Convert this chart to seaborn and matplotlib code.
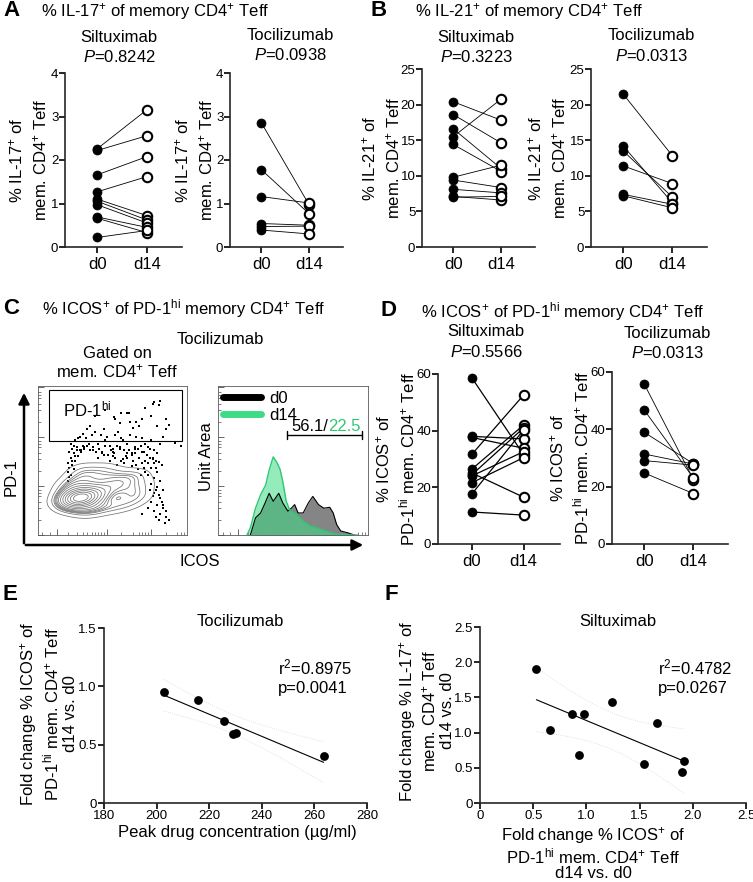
import numpy as np
import pandas as pd
import matplotlib
matplotlib.use("Agg")
import matplotlib.pyplot as plt
import seaborn as sns
from matplotlib.lines import Line2D
from matplotlib.patches import FancyArrowPatch, Rectangle

# ---------------- data ----------------
days = ["d0", "d14"]
a_silt_d0 = [2.26, 2.22, 1.66, 1.27, 1.10, 1.05, 0.97, 0.69, 0.66, 0.22]
a_silt_d14 = [3.16, 2.56, 2.08, 1.62, 0.72, 0.62, 0.55, 0.45, 0.33, 0.38]
a_toci_d0 = [2.86, 1.78, 1.16, 0.54, 0.47, 0.39]
a_toci_d14 = [0.96, 0.76, 1.01, 0.50, 0.48, 0.30]

b_silt_d0 = [20.4, 18.6, 16.6, 15.5, 14.4, 9.8, 9.4, 8.1, 7.1, 7.0]
b_silt_d14 = [17.8, 14.6, 11.0, 20.8, 10.6, 11.5, 8.35, 7.6, 6.6, 7.1]
b_toci_d0 = [21.5, 14.2, 13.5, 11.4, 7.4, 7.2]
b_toci_d14 = [12.8, 6.2, 7.0, 8.9, 6.0, 5.5]

d_silt_d0 = [58.7, 38.0, 37.6, 31.6, 26.4, 25.1, 24.4, 24.0, 21.6, 17.6, 11.3]
d_silt_d14 = [31.5, 37.1, 33.8, 52.6, 42.0, 16.5, 41.0, 32.6, 30.5, 40.3, 10.2]
d_toci_d0 = [55.9, 46.8, 39.0, 31.4, 29.1, 24.8]
d_toci_d14 = [22.5, 23.0, 28.0, 27.9, 27.5, 17.6]

e_conc = [202.7, 215.7, 225.7, 229.2, 230.2, 263.5]
e_fold = [0.95, 0.88, 0.70, 0.59, 0.60, 0.40]

f_icos = [0.53, 0.66, 0.86, 0.98, 0.93, 1.24, 1.66, 1.54, 1.92, 1.90]
f_il17 = [1.91, 1.04, 1.26, 1.27, 0.68, 1.43, 1.13, 0.56, 0.60, 0.44]

# flow plot (panel C), read approximately in 0-100 display units
core_x = [26, 28, 30, 27, 29, 25, 31, 24, 32, 28, 27, 30, 34, 36, 22, 20, 23, 26, 30, 34,
          38, 40, 42, 36, 32, 26, 22, 19, 45, 48, 52, 56, 60, 64, 68, 62, 55, 48, 40, 34,
          20, 24, 30, 38, 46, 54, 62, 70, 66, 44, 34, 28, 27, 29, 26, 30]
core_y = [25, 25, 25, 24, 26, 26, 24, 24, 26, 27, 22, 22, 25, 26, 25, 27, 30, 31, 31, 30,
          29, 27, 25, 21, 19, 19, 20, 23, 30, 33, 35, 33, 30, 28, 26, 22, 20, 19, 18, 16,
          33, 37, 38, 36, 40, 40, 38, 34, 40, 44, 42, 44, 25, 25, 24, 26]
dots_x = [21, 20, 22, 21, 23, 24, 22, 25, 27, 26, 24, 20, 22, 23,
          28, 30, 32, 34, 36, 38, 33, 35, 40, 42, 44, 46, 48, 50, 52, 54, 56, 58, 60, 62, 64, 66,
          68, 70, 72, 74, 76, 78, 80, 82, 84, 86, 88, 45, 50, 55, 60, 65, 70, 68, 72, 75, 78,
          38, 45, 52, 60, 66, 72, 76, 78, 82, 70, 55, 62, 80, 86, 92, 96, 81, 77, 61, 56, 51,
          76, 80, 78, 82, 74, 80, 84, 78, 82, 76, 80, 84, 78, 82, 86, 88, 74, 70, 85,
          40, 44, 48, 52, 56, 60, 64, 66, 70, 31, 37, 43, 58, 63, 29, 25,
          23, 25, 27, 29, 31, 33, 35, 37, 39, 41, 43, 45, 47, 49, 51, 53, 55, 57, 59, 61,
          63, 65, 67, 69, 71, 73, 75, 77, 79, 81, 83, 79, 77, 74, 71, 67, 63, 58, 53, 28,
          30, 26, 24, 21, 20, 76, 79, 81, 77, 75, 83, 79, 81, 84, 86, 72, 69, 65, 57, 50]
dots_y = [45, 48, 52, 56, 58, 60, 61, 64, 65, 59, 55, 42, 40, 50,
          66, 68, 65, 61, 67, 69, 71, 73, 61, 67, 71, 66, 60, 58, 67, 69, 65, 57, 61, 67, 72, 66,
          73, 65, 61, 59, 64, 57, 55, 61, 66, 71, 74, 60, 56, 58, 55, 58, 56, 52, 50, 52, 48,
          80, 84, 78, 82, 76, 85, 80, 89, 90, 78, 75, 76, 73, 78, 62, 60, 87, 88, 82, 82, 79,
          45, 42, 38, 36, 40, 32, 30, 28, 25, 22, 20, 18, 16, 14, 12, 10, 18, 14, 8,
          52, 54, 50, 52, 50, 52, 50, 47, 48, 59, 57, 56, 57, 54, 57, 53,
          47, 50, 53, 56, 58, 60, 57, 59, 56, 58, 55, 64, 54, 57, 55, 60, 59, 64, 53, 57,
          55, 59, 58, 60, 56, 54, 58, 52, 50, 49, 47, 45, 51, 48, 45, 44, 46, 48, 47, 57,
          60, 57, 44, 39, 36, 34, 30, 27, 26, 30, 22, 12, 10, 20, 16, 42, 40, 55, 51, 53]

h0_x = [21.6, 25.0, 28.4, 31.4, 34.1, 36.8, 40.5, 43.2, 46.6, 48.9, 51.1, 53.4, 56.8, 60.2,
        63.2, 67.0, 70.5, 74.5, 76.8, 79.1, 81.8, 86.4, 90.9]
h0_y = [0, 11.5, 14.8, 21.5, 28.0, 22.6, 28.0, 21.5, 16.0, 18.0, 20.4, 14.8, 14.8, 21.5,
        25.9, 20.4, 18.0, 18.6, 14.8, 7.0, 2.7, 1.5, 0]
h14_x = [19.3, 21.6, 25.0, 28.4, 31.8, 34.1, 36.8, 39.1, 41.4, 43.2, 45.5, 47.7, 52.3, 56.8,
         61.4, 65.9, 70.5, 75.0, 79.5, 93.0]
h14_y = [0, 4.9, 18.0, 27.0, 33.6, 43.6, 52.4, 49.0, 44.0, 35.8, 22.6, 17.0, 14.0, 9.3,
         6.0, 4.9, 3.1, 1.5, 0.4, 0]

GREEN = "#3ddc84"

# ---------------- style ----------------
sns.set_theme(style="ticks")
plt.rcParams["font.family"] = ["Liberation Sans", "DejaVu Sans"]
plt.rcParams["mathtext.fontset"] = "custom"
plt.rcParams["mathtext.rm"] = "Liberation Sans"
plt.rcParams["mathtext.it"] = "Liberation Sans:italic"
plt.rcParams["mathtext.bf"] = "Liberation Sans:bold"
plt.rcParams["axes.linewidth"] = 1.2
plt.rcParams["text.color"] = "black"
plt.rcParams["xtick.color"] = "black"
plt.rcParams["ytick.color"] = "black"

W, H = 753, 882
fig = plt.figure(figsize=(W / 100, H / 100), dpi=100)

FS = 12


def rect(l, t, r, b):
    return [l / W, 1 - b / H, (r - l) / W, (b - t) / H]


def ftext(x, y, s, **kw):
    kw.setdefault("ha", "left")
    kw.setdefault("va", "center")
    kw.setdefault("fontsize", FS)
    fig.text(x / W, 1 - y / H, s, **kw)


def paired(box, d0, d14, ylim, yticks, ylabel, label_cx, sub, pval, sub_cx, sub_y, lw=0.6,
           ls=1.4):
    ax = fig.add_axes(rect(*box))
    n = len(d0)
    df = pd.DataFrame({"subject": list(range(n)) * 2,
                       "day": [days[0]] * n + [days[1]] * n,
                       "value": list(d0) + list(d14)})
    sns.lineplot(data=df, x="day", y="value", units="subject", estimator=None,
                 color="black", lw=lw, ax=ax, legend=False, sort=False)
    sns.scatterplot(data=df[df["day"] == days[0]], x="day", y="value", color="black",
                    edgecolor="black", s=42, ax=ax, zorder=3, clip_on=False)
    sns.scatterplot(data=df[df["day"] == days[1]], x="day", y="value", color="white",
                    edgecolor="black", linewidth=1.5, s=46, ax=ax, zorder=3, clip_on=False)
    sns.despine(ax=ax)
    ax.set_xlim(-0.65, 1.7)
    ax.set_ylim(*ylim)
    ax.set_yticks(yticks)
    ax.set_xlabel("")
    ax.set_ylabel("")
    ax.tick_params(axis="y", labelsize=9.5, length=4, width=1.2, pad=0.8)
    ax.tick_params(axis="x", labelsize=12, length=4, width=1.2, pad=3)
    cy = (box[1] + box[3]) / 2
    ftext(label_cx, cy, ylabel, rotation=90, ha="center", va="center",
          multialignment="center", linespacing=ls)
    ftext(sub_cx, sub_y, sub, ha="center")
    ftext(sub_cx, sub_y + 20, r"$P$=" + pval, ha="center")
    return ax


# ---------------- panel titles ----------------
def letter(x, y, s):
    ftext(x, y, s, fontsize=16, fontweight="heavy")


letter(3, 11, "A")
ftext(41, 12, r"% IL-17$^{+}$ of memory CD4$^{+}$ Teff")
letter(371, 11, "B")
ftext(415, 12, r"% IL-21$^{+}$ of memory CD4$^{+}$ Teff")
letter(3, 308, "C")
ftext(42, 309, r"% ICOS$^{+}$ of PD-1$^{\mathrm{hi}}$ memory CD4$^{+}$ Teff")
letter(381, 311, "D")
ftext(421, 312, r"% ICOS$^{+}$ of PD-1$^{\mathrm{hi}}$ memory CD4$^{+}$ Teff")
letter(3, 595, "E")
letter(384, 594, "F")

lab_a = "% IL-17$^{+}$ of\nmem. CD4$^{+}$ Teff"
lab_b = "% IL-21$^{+}$ of\nmem. CD4$^{+}$ Teff"
lab_d = "% ICOS$^{+}$ of\nPD-1$^{\\mathrm{hi}}$ mem. CD4$^{+}$ Teff"

paired((65, 73, 182, 247), a_silt_d0, a_silt_d14, (0, 4), [0, 1, 2, 3, 4], lab_a, 28,
       "Siltuximab", "0.8242", 119, 37)
paired((230, 73, 343, 247), a_toci_d0, a_toci_d14, (0, 4), [0, 1, 2, 3, 4], lab_a, 194,
       "Tocilizumab", "0.0938", 290, 35)
paired((422, 69, 535, 247), b_silt_d0, b_silt_d14, (0, 25), [0, 5, 10, 15, 20, 25], lab_b, 381,
       "Siltuximab", "0.3223", 476, 37)
paired((591, 69, 707, 247), b_toci_d0, b_toci_d14, (0, 25), [0, 5, 10, 15, 20, 25], lab_b, 547,
       "Tocilizumab", "0.0313", 651, 36)
paired((438, 374, 560, 544), d_silt_d0, d_silt_d14, (0, 60), [0, 20, 40, 60], lab_d, 396,
       "Siltuximab", "0.5566", 486, 332, lw=0.9, ls=1.3)
paired((612, 372, 728, 544), d_toci_d0, d_toci_d14, (0, 60), [0, 20, 40, 60], lab_d, 570,
       "Tocilizumab", "0.0313", 667, 333, ls=1.3)

# ---------------- panel C ----------------
ftext(220, 340, "Tocilizumab", ha="center")
ftext(117, 353, "Gated on", ha="center")
ftext(117, 371, "mem. CD4$^{+}$ Teff", ha="center")

axc = fig.add_axes(rect(38, 386, 187, 535))
sns.kdeplot(x=core_x, y=core_y, levels=14, thresh=0.04, color="0.45", linewidths=0.55,
            bw_adjust=1.05, ax=axc)
sns.scatterplot(x=dots_x, y=dots_y, color="black", s=4, marker="s", linewidth=0, ax=axc)
axc.add_patch(Rectangle((7.5, 62.9), 89.1, 34.2, fill=False, lw=0.8, ec="black"))
axc.text(17, 84, "PD-1$^{\\mathrm{hi}}$", fontsize=FS, va="center")
axc.set_xlim(0, 100)
axc.set_ylim(0, 100)

axh = fig.add_axes(rect(218, 386, 368, 535))
axh.fill_between(h0_x, h0_y, color="#858585", lw=0)
axh.plot(h0_x, h0_y, color="black", lw=0.8)
axh.fill_between(h14_x, h14_y, color=GREEN, alpha=0.55, lw=0)
axh.plot(h14_x, h14_y, color="#2ec874", lw=1.0)
axh.set_xlim(0, 100)
axh.set_ylim(0, 100)
axh.legend(handles=[Line2D([0], [0], color="black", lw=5),
                    Line2D([0], [0], color=GREEN, lw=5)],
           labels=["d0", "d14"], loc="upper left", frameon=False, fontsize=FS,
           handlelength=2.3, handletextpad=0.5, labelspacing=0.1,
           borderaxespad=0.1, borderpad=0.2)
axh.plot([46, 96], [67, 67], color="black", lw=1.0)
axh.plot([46, 46], [64.5, 69.5], color="black", lw=1.0)
axh.plot([96, 96], [64.5, 69.5], color="black", lw=1.0)
axh.text(73.5, 72.5, "56.1/", ha="right", va="center", fontsize=FS)
axh.text(73.5, 72.5, "22.5", ha="left", va="center", fontsize=FS, color="#2ec874")

for ax in (axc, axh):
    for sp in ax.spines.values():
        sp.set_linewidth(0.6)
        sp.set_color("0.35")
    ax.set_xlabel("")
    ax.set_ylabel("")
    ax.set_xticks([13, 46, 76])
    ax.set_xticks([3, 8, 20, 26, 30, 33, 36, 38, 40, 42, 44, 56, 64, 68, 70, 72, 74, 86, 93,
                   96, 98], minor=True)
    ax.set_yticks([0, 33, 66, 99])
    ax.set_yticks([10, 18, 22, 26, 28, 30, 43, 51, 55, 59, 61, 63, 76, 84, 88, 92, 94, 96],
                  minor=True)
    ax.tick_params(which="major", direction="in", length=4, width=0.6, labelleft=False,
                   labelbottom=False, color="0.3")
    ax.tick_params(which="minor", direction="in", length=2, width=0.5, color="0.3")

fig.add_artist(FancyArrowPatch((24 / W, 1 - 546 / H), (24 / W, 1 - 390 / H),
                               transform=fig.transFigure, arrowstyle="-|>",
                               mutation_scale=16, lw=1.8, color="black"))
fig.add_artist(FancyArrowPatch((23 / W, 1 - 545 / H), (366 / W, 1 - 545 / H),
                               transform=fig.transFigure, arrowstyle="-|>",
                               mutation_scale=16, lw=1.8, color="black"))
ftext(11, 477, "PD-1", rotation=90, ha="center")
ftext(200, 562, "ICOS", ha="center")
ftext(207, 457, "Unit Area", rotation=90, ha="center")


# ---------------- panels E, F ----------------
def ci_band(ax, x, y, t):
    x = np.asarray(x, float)
    y = np.asarray(y, float)
    n = len(x)
    b, a = np.polyfit(x, y, 1)
    xs = np.linspace(x.min(), x.max(), 60)
    yhat = a + b * xs
    s = np.sqrt(np.sum((y - (a + b * x)) ** 2) / (n - 2))
    se = s * np.sqrt(1 / n + (xs - x.mean()) ** 2 / np.sum((x - x.mean()) ** 2))
    ax.plot(xs, yhat + t * se, color="0.85", lw=0.6, ls=":")
    ax.plot(xs, yhat - t * se, color="0.85", lw=0.6, ls=":")


def corr_axes(box, x, y, t, xlim, xticks, xticklabels, ylim, yticks, yticklabels):
    ax = fig.add_axes(rect(*box))
    sns.regplot(x=x, y=y, ci=None, ax=ax,
                scatter_kws=dict(s=40, color="black", alpha=1, zorder=3, clip_on=False,
                                 linewidths=0),
                line_kws=dict(color="black", lw=0.8))
    ci_band(ax, x, y, t)
    sns.despine(ax=ax)
    ax.set_xlim(*xlim)
    ax.set_xticks(xticks)
    ax.set_xticklabels(xticklabels)
    ax.set_ylim(*ylim)
    ax.set_yticks(yticks)
    ax.set_yticklabels(yticklabels)
    ax.tick_params(labelsize=9.5, length=4, width=1.2, pad=1.2, colors="black")
    ax.set_xlabel("")
    ax.set_ylabel("")
    return ax


corr_axes((104, 628, 367, 803), e_conc, e_fold, 2.776, (180, 280),
          [180, 200, 220, 240, 260, 280], ["180", "200", "220", "240", "260", "280"],
          (0, 1.5), [0, 0.5, 1.0, 1.5], ["0", "0.5", "1.0", "1.5"])
ftext(240, 621, "Tocilizumab", ha="center")
ftext(278, 667, "r$^{2}$=0.8975")
ftext(278, 688, "p=0.0041")
ftext(48, 714, "Fold change % ICOS$^{+}$ of\nPD-1$^{\\mathrm{hi}}$ mem. CD4$^{+}$ Teff\nd14 vs. d0",
      rotation=90, ha="center", multialignment="center", linespacing=1.15)
ftext(237, 833, "Peak drug concentration (µg/ml)", ha="center")

corr_axes((480, 627, 746, 803), f_icos, f_il17, 2.306, (0, 2.5),
          [0, 0.5, 1.0, 1.5, 2.0, 2.5], ["0", "0.5", "1.0", "1.5", "2.0", "2.5"],
          (0, 2.5), [0, 0.5, 1.0, 1.5, 2.0, 2.5], ["0", "0.5", "1.0", "1.5", "2.0", "2.5"])
ftext(618, 622, "Siltuximab", ha="center")
ftext(658, 667, "r$^{2}$=0.4782")
ftext(658, 688, "p=0.0267")
ftext(426, 711, "Fold change % IL-17$^{+}$ of\nmem. CD4$^{+}$ Teff\nd14 vs. d0",
      rotation=90, ha="center", multialignment="center", linespacing=1.15)
ftext(593, 853, "Fold change % ICOS$^{+}$ of\nPD-1$^{\\mathrm{hi}}$ mem. CD4$^{+}$ Teff\nd14 vs. d0",
      ha="center", multialignment="center", linespacing=1.0)

fig.savefig("out.png", dpi=100)
